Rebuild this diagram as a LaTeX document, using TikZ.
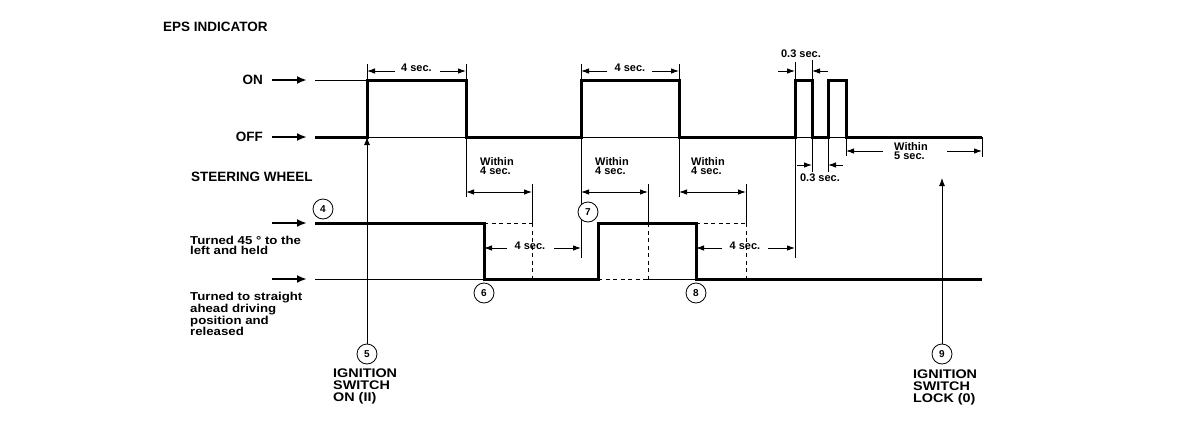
\documentclass[tikz,border=0pt]{standalone}
\usepackage{fontspec}
\setmainfont{Liberation Sans}
\newfontfamily\widefont[FakeStretch=1.15]{Liberation Sans}
\usetikzlibrary{arrows.meta}
\begin{document}
\begin{tikzpicture}[x=1pt,y=-1pt,
  sig/.style={line width=3pt, line join=miter},
  thn/.style={line width=0.9pt},
  dsh/.style={line width=0.9pt, dash pattern=on 4pt off 3.5pt},
  dim/.style={line width=0.9pt, -{Latex[length=8pt,width=5.5pt]}},
  dimb/.style={line width=0.9pt, {Latex[length=8pt,width=5.5pt]}-{Latex[length=8pt,width=5.5pt]}},
  bigarr/.style={line width=2pt, -{Latex[length=10pt,width=8pt]}},
  lbl/.style={font=\bfseries\fontsize{13.5}{13.5}\selectfont, inner sep=0},
  side/.style={font=\widefont\bfseries\fontsize{11.5}{9.6}\selectfont, inner sep=0, align=left, anchor=north west},
  side2/.style={font=\widefont\bfseries\fontsize{11.5}{10.6}\selectfont, inner sep=0, align=left, anchor=north west},
  ign/.style={font=\widefont\bfseries\fontsize{12.5}{11.6}\selectfont, inner sep=0, align=left, anchor=north west},
  sm/.style={font=\bfseries\fontsize{11}{8.9}\selectfont, inner sep=0, align=left, anchor=north west},
  dtxt/.style={font=\bfseries\fontsize{11}{11}\selectfont, inner sep=0},
  num/.style={circle, draw, line width=0.8pt, fill=white, minimum size=20pt, inner sep=0, font=\bfseries\fontsize{10}{10}\selectfont},
]
\useasboundingbox (0,0) rectangle (1184,434);

% ---------- labels ----------
\node[lbl, anchor=west] (title) at (163,27) {EPS INDICATOR};
\node[lbl, anchor=east] (on) at (263,80) {ON};
\node[lbl, anchor=east] (off) at (263,137) {OFF};
\node[lbl, anchor=west] (sw) at (191,177) {STEERING WHEEL};
\node[side] (left) at (190,236) {Turned 45 ° to the\\left and held};
\node[side2] (straight) at (190,292) {Turned to straight\\ahead driving\\position and\\released};

% row arrows
\coordinate (aON) at (272,80);  \coordinate (bON) at (307,80);
\coordinate (aOF) at (272,137); \coordinate (bOF) at (307,137);
\coordinate (aL) at (272,223);  \coordinate (bL) at (307,223);
\coordinate (aS) at (272,279);  \coordinate (bS) at (307,279);
\draw[bigarr] (aON) -- (bON);
\draw[bigarr] (aOF) -- (bOF);
\draw[bigarr] (aL) -- (bL);
\draw[bigarr] (aS) -- (bS);

% ---------- EPS indicator waveform ----------
\draw[thn] (315,80) -- (367,80);
\draw[thn] (367,137) -- (466,137);
\draw[thn] (581,137) -- (679,137);
\draw[thn] (795,137) -- (812,137);
\draw[thn] (828,137) -- (846,137);
\draw[sig] (315,137) -- (367,137) -- (367,80) -- (466,80) -- (466,137)
  -- (581,137) -- (581,80) -- (679,80) -- (679,137)
  -- (795,137) -- (795,80) -- (812,80) -- (812,137)
  -- (828,137) -- (828,80) -- (846,80) -- (846,137) -- (982,137);

% ---------- steering waveform ----------
\draw[thn] (315,279) -- (484,279);
\draw[dsh] (598,279) -- (647,279);
\draw[thn] (647,279) -- (696,279);
\draw[dsh] (484,223) -- (532,223);
\draw[dsh] (696,223) -- (746,223);
\draw[sig] (315,223) -- (484,223) -- (484,279) -- (598,279) -- (598,223)
  -- (696,223) -- (696,279) -- (982,279);

% ---------- extension lines ----------
\draw[thn] (367,64) -- (367,80);
\draw[thn] (466,64) -- (466,80);
\draw[thn] (466,137) -- (466,197);
\draw[thn] (581,64) -- (581,80);
\draw[thn] (581,137) -- (581,258);
\draw[thn] (679,64) -- (679,80);
\draw[thn] (679,137) -- (679,197);
\draw[thn] (532,184) -- (532,223);
\draw[dsh] (532,223) -- (532,279);
\draw[thn] (648,184) -- (648,223);
\draw[dsh] (648,223) -- (648,279);
\draw[thn] (746,184) -- (746,223);
\draw[dsh] (746,223) -- (746,279);
\draw[thn] (795,62) -- (795,80);
\draw[thn] (795,137) -- (795,258);
\draw[thn] (812,60) -- (812,80);
\draw[thn] (812,137) -- (812,172);
\draw[thn] (828,137) -- (828,172);
\draw[thn] (846,137) -- (846,156);
\draw[thn] (982,137) -- (982,157);

% ---------- top dimensions ----------
\node[dtxt] (d1) at (416.5,68) {4 sec.};
\draw[dim] (395,71) -- (367,71);
\draw[dim] (440,71) -- (466,71);
\node[dtxt] (d2) at (630,68) {4 sec.};
\draw[dim] (607,71) -- (581,71);
\draw[dim] (652,71) -- (679,71);
\node[dtxt] (d3) at (801,53.5) {0.3 sec.};
\draw[dim] (778,71) -- (795,71);
\draw[dim] (828,71) -- (812,71);
\node[dtxt] (d4) at (820,178) {0.3 sec.};
\draw[dim] (797,165) -- (812,165);
\draw[dim] (843,165) -- (828,165);

% ---------- within ----------
\node[sm] (w1) at (480,157) {Within\\4 sec.};
\draw[dimb] (466,192) -- (532,192);
\node[sm] (w2) at (595,157) {Within\\4 sec.};
\draw[dimb] (581,192) -- (648,192);
\node[sm] (w3) at (691,157) {Within\\4 sec.};
\draw[dimb] (679,192) -- (746,192);
\node[sm] (w5) at (894,142) {Within\\5 sec.};
\draw[dim] (883,151) -- (846,151);
\draw[dim] (947,151) -- (982,151);

% ---------- bottom 4 sec. ----------
\node[dtxt] (d5) at (530,246) {4 sec.};
\draw[dim] (507,248) -- (484,248);
\draw[dim] (554,248) -- (581,248);
\node[dtxt] (d6) at (745,246) {4 sec.};
\draw[dim] (722,248) -- (696,248);
\draw[dim] (768,248) -- (795,248);

% ---------- numbered circles ----------
\node[num] (n4) at (323,209) {4};
\node[num] (n6) at (484,293) {6};
\node[num] (n7) at (588,212) {7};
\node[num] (n8) at (696,293) {8};
\node[num] (n5) at (367,354) {5};
\node[num] (n9) at (942,354) {9};

\coordinate (t5) at (367,137);
\coordinate (t9) at (942,178);
\draw[line width=0.9pt, -{Latex[length=8pt,width=6pt]}] (n5) -- (t5);
\draw[line width=0.9pt, -{Latex[length=8pt,width=6pt]}] (n9) -- (t9);

\node[ign] (ig1) at (333,369) {IGNITION\\SWITCH\\ON (II)};
\node[ign] (ig2) at (913,370) {IGNITION\\SWITCH\\LOCK (0)};
\end{tikzpicture}
\end{document}
